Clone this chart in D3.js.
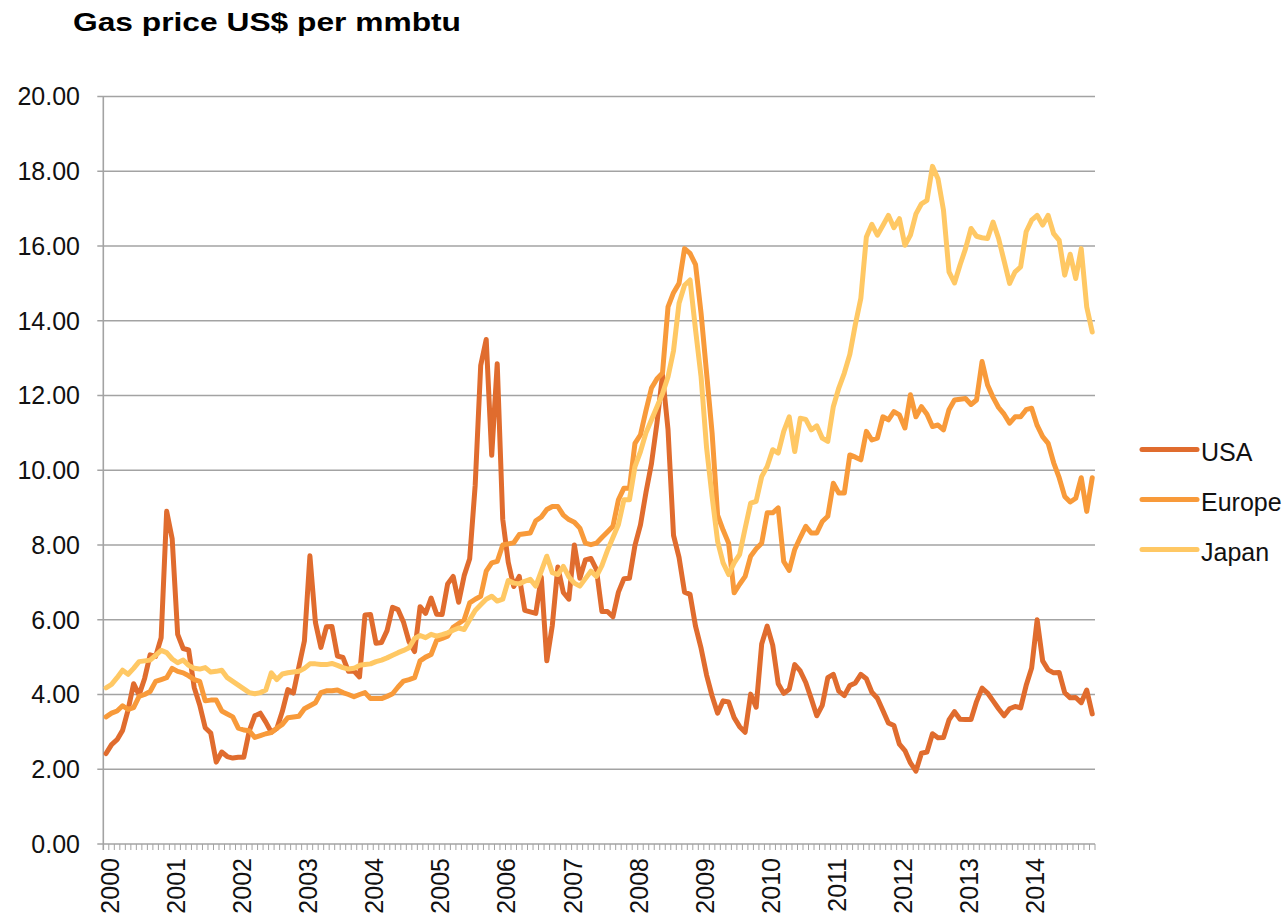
<!DOCTYPE html>
<html>
<head>
<meta charset="utf-8">
<script src="https://cdn.jsdelivr.net/npm/d3@7"></script>
<style>
  body { margin: 0; background: #fff; }
  svg { display: block; font-family: "Liberation Sans", Arial, sans-serif; }
</style>
</head>
<body>
<svg id="chart" width="1288" height="920"></svg>
<script>
const yearLabels = ['2000', '2001', '2002', '2003', '2004', '2005', '2006', '2007',
    '2008', '2009', '2010', '2011', '2012', '2013', '2014'];
const yTicks = [0, 2, 4, 6, 8, 10, 12, 14, 16, 18, 20];
const seriesNames = ['USA', 'Europe', 'Japan'];
const seriesColors = ['#E06C2E', '#F89A3A', '#FFC864'];

// monthly, Jan 2000 .. Dec 2014
const usa = [
    2.42, 2.66, 2.79, 3.04, 3.59, 4.29, 3.99, 4.43, 5.06, 5.02, 5.52, 8.90,
    8.17, 5.61, 5.23, 5.19, 4.19, 3.72, 3.11, 2.97, 2.19, 2.46, 2.34, 2.30,
    2.32, 2.32, 3.03, 3.43, 3.50, 3.26, 2.99, 3.09, 3.55, 4.13, 4.04, 4.74,
    5.43, 7.71, 5.93, 5.26, 5.81, 5.82, 5.03, 4.99, 4.62, 4.63, 4.47, 6.13,
    6.14, 5.37, 5.39, 5.71, 6.33, 6.27, 5.93, 5.41, 5.15, 6.35, 6.17, 6.58,
    6.15, 6.14, 6.96, 7.16, 6.47, 7.18, 7.63, 9.60, 12.80, 13.50, 10.40, 12.85,
    8.69, 7.54, 6.89, 7.16, 6.25, 6.21, 6.17, 7.14, 4.90, 5.85, 7.41, 6.73,
    6.55, 8.00, 7.11, 7.60, 7.64, 7.35, 6.22, 6.22, 6.08, 6.74, 7.10, 7.11,
    7.99, 8.54, 9.41, 10.18, 11.27, 12.55, 11.09, 8.26, 7.67, 6.74, 6.68, 5.82,
    5.24, 4.52, 3.96, 3.50, 3.83, 3.80, 3.38, 3.14, 2.99, 4.01, 3.66, 5.35,
    5.83, 5.32, 4.29, 4.03, 4.14, 4.80, 4.63, 4.32, 3.89, 3.43, 3.71, 4.45,
    4.54, 4.09, 3.97, 4.24, 4.31, 4.54, 4.42, 4.06, 3.90, 3.57, 3.24, 3.17,
    2.67, 2.50, 2.17, 1.95, 2.43, 2.46, 2.95, 2.84, 2.85, 3.32, 3.54, 3.34,
    3.33, 3.33, 3.81, 4.17, 4.04, 3.83, 3.62, 3.43, 3.62, 3.68, 3.64, 4.24,
    4.71, 6.00, 4.90, 4.66, 4.58, 4.59, 4.05, 3.91, 3.92, 3.78, 4.12, 3.48
];
const europe = [
    3.40, 3.50, 3.56, 3.70, 3.60, 3.65, 3.95, 4.00, 4.08, 4.35, 4.40, 4.45,
    4.70, 4.62, 4.58, 4.50, 4.40, 4.35, 3.83, 3.85, 3.85, 3.56, 3.48, 3.40,
    3.10, 3.05, 3.03, 2.85, 2.90, 2.95, 2.98, 3.10, 3.20, 3.38, 3.40, 3.42,
    3.62, 3.70, 3.78, 4.05, 4.10, 4.10, 4.12, 4.05, 4.00, 3.94, 4.00, 4.05,
    3.89, 3.89, 3.89, 3.95, 4.02, 4.20, 4.36, 4.40, 4.45, 4.90, 5.00, 5.07,
    5.45, 5.50, 5.56, 5.80, 5.90, 6.00, 6.45, 6.55, 6.63, 7.30, 7.52, 7.56,
    8.00, 8.03, 8.06, 8.28, 8.30, 8.32, 8.65, 8.75, 8.95, 9.03, 9.03, 8.80,
    8.68, 8.61, 8.45, 8.05, 8.01, 8.05, 8.20, 8.35, 8.50, 9.21, 9.52, 9.52,
    10.72, 10.95, 11.60, 12.20, 12.45, 12.60, 14.37, 14.75, 15.00, 15.93, 15.80, 15.50,
    14.20, 12.60, 11.00, 8.80, 8.40, 8.05, 6.72, 6.95, 7.16, 7.70, 7.90, 8.05,
    8.86, 8.86, 8.99, 7.56, 7.32, 7.88, 8.20, 8.50, 8.32, 8.32, 8.63, 8.77,
    9.65, 9.39, 9.39, 10.41, 10.35, 10.28, 11.04, 10.81, 10.86, 11.43, 11.35, 11.57,
    11.48, 11.13, 12.02, 11.43, 11.70, 11.50, 11.17, 11.21, 11.08, 11.62, 11.88, 11.90,
    11.92, 11.76, 11.88, 12.91, 12.28, 11.95, 11.68, 11.50, 11.26, 11.43, 11.43, 11.62,
    11.66, 11.20, 10.90, 10.72, 10.20, 9.80, 9.30, 9.15, 9.25, 9.80, 8.90, 9.80
];
const japan = [
    4.18, 4.27, 4.45, 4.65, 4.54, 4.70, 4.88, 4.90, 4.92, 5.05, 5.18, 5.12,
    4.95, 4.85, 4.92, 4.78, 4.70, 4.68, 4.72, 4.60, 4.62, 4.65, 4.45, 4.35,
    4.25, 4.15, 4.05, 4.02, 4.05, 4.12, 4.58, 4.40, 4.55, 4.58, 4.60, 4.62,
    4.70, 4.82, 4.82, 4.80, 4.80, 4.83, 4.78, 4.72, 4.68, 4.70, 4.78, 4.80,
    4.82, 4.88, 4.92, 4.98, 5.05, 5.12, 5.18, 5.25, 5.50, 5.58, 5.52, 5.61,
    5.56, 5.60, 5.65, 5.72, 5.78, 5.74, 6.00, 6.25, 6.40, 6.55, 6.63, 6.50,
    6.55, 7.05, 6.98, 6.96, 7.03, 7.08, 6.90, 7.30, 7.70, 7.26, 7.21, 7.43,
    7.15, 6.98, 6.90, 7.10, 7.30, 7.16, 7.45, 7.85, 8.20, 8.55, 9.21, 9.21,
    10.10, 10.50, 11.00, 11.35, 11.70, 12.05, 12.50, 13.20, 14.47, 14.95, 15.09, 13.75,
    12.50, 10.60, 9.30, 8.10, 7.52, 7.21, 7.52, 7.75, 8.45, 9.12, 9.17, 9.83,
    10.10, 10.55, 10.46, 11.04, 11.43, 10.50, 11.39, 11.36, 11.08, 11.19, 10.86, 10.77,
    11.70, 12.20, 12.60, 13.10, 13.90, 14.60, 16.24, 16.58, 16.29, 16.55, 16.82, 16.49,
    16.73, 16.02, 16.29, 16.86, 17.13, 17.22, 18.13, 17.80, 16.96, 15.31, 15.01, 15.49,
    15.93, 16.47, 16.26, 16.22, 16.20, 16.64, 16.20, 15.60, 15.00, 15.31, 15.44, 16.38,
    16.69, 16.82, 16.56, 16.82, 16.33, 16.15, 15.22, 15.78, 15.13, 15.93, 14.37, 13.70
];

const seriesValues = [usa, europe, japan];

const svg = d3.select('#chart');
const plot = { left: 103.3, right: 1095, top: 96.5, bottom: 844 };
const GRID = '#A3A3A3';

const months = d3.range(usa.length);
const x = d3.scaleBand()
    .domain(months)
    .range([plot.left, plot.right])
    .padding(0);
const y = d3.scaleLinear()
    .domain([0, 20])
    .range([plot.bottom, plot.top]);
const cx = (i) => x(i) + x.bandwidth() / 2;

// title
svg.append('text')
    .attr('x', 73)
    .attr('y', 31)
    .attr('font-size', 26)
    .attr('font-weight', 'bold')
    .attr('textLength', 388)
    .attr('lengthAdjust', 'spacingAndGlyphs')
    .text('Gas price US$ per mmbtu');

// horizontal gridlines + y ticks
svg.append('g')
    .selectAll('line')
    .data(yTicks)
    .join('line')
    .attr('x1', plot.left - 6)
    .attr('x2', plot.right)
    .attr('y1', (d) => y(d))
    .attr('y2', (d) => y(d))
    .attr('stroke', GRID)
    .attr('stroke-width', 1.6);

svg.append('g')
    .selectAll('text')
    .data(yTicks)
    .join('text')
    .attr('x', 80)
    .attr('y', (d) => y(d))
    .attr('dy', '0.35em')
    .attr('text-anchor', 'end')
    .attr('font-size', 25)
    .attr('fill', '#111')
    .text((d) => d3.format('.2f')(d));

// y axis line
svg.append('line')
    .attr('x1', plot.left).attr('x2', plot.left)
    .attr('y1', plot.top).attr('y2', plot.bottom + 6)
    .attr('stroke', GRID)
    .attr('stroke-width', 1.6);

// minor month ticks along the category axis
const boundaries = months.map((i) => x(i)).concat([plot.right]);
svg.append('g')
    .selectAll('line')
    .data(boundaries.slice(1))
    .join('line')
    .attr('x1', (d) => d).attr('x2', (d) => d)
    .attr('y1', plot.bottom)
    .attr('y2', plot.bottom + 6)
    .attr('stroke', GRID)
    .attr('stroke-width', 1);

// year labels, rotated
svg.append('g')
    .selectAll('text')
    .data(yearLabels)
    .join('text')
    .attr('transform', (d, j) => `translate(${cx(j * 12) + 4},858) rotate(-90)`)
    .attr('dy', '0.35em')
    .attr('text-anchor', 'end')
    .attr('font-size', 25)
    .attr('fill', '#111')
    .text((d) => d);

// series lines
const line = d3.line()
    .x((d, i) => cx(i))
    .y((d) => y(d));

svg.append('g')
    .selectAll('path')
    .data(seriesValues)
    .join('path')
    .attr('d', (d) => line(d))
    .attr('fill', 'none')
    .attr('stroke', (d, k) => seriesColors[k])
    .attr('stroke-width', 5)
    .attr('stroke-linejoin', 'round')
    .attr('stroke-linecap', 'round');

// legend
const legend = svg.append('g')
    .selectAll('g')
    .data(seriesNames)
    .join('g')
    .attr('transform', (d, k) => `translate(1142,${449.5 + k * 50})`);

legend.append('line')
    .attr('x1', 0).attr('x2', 55)
    .attr('stroke', (d, k) => seriesColors[k])
    .attr('stroke-width', 5)
    .attr('stroke-linecap', 'round');

legend.append('text')
    .attr('x', 59)
    .attr('y', 11.5)
    .attr('font-size', 25)
    .attr('fill', '#111')
    .text((d) => d);
</script>
</body>
</html>
